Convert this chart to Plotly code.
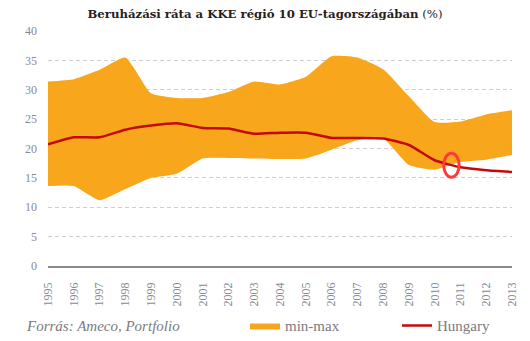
import plotly.graph_objects as go

years = list(range(1995, 2014))
min_vals = [13.6, 13.6, 11.2, 13.1, 15.0, 15.7, 18.3, 18.4, 18.3, 18.2, 18.3, 19.8, 21.4, 21.7, 17.2, 16.4, 17.7, 18.1, 18.9]
max_vals = [31.4, 31.8, 33.4, 35.5, 29.4, 28.6, 28.6, 29.6, 31.4, 30.9, 32.2, 35.7, 35.5, 33.5, 28.9, 24.5, 24.6, 25.8, 26.5]
hungary = [20.7, 21.9, 21.9, 23.2, 23.9, 24.3, 23.5, 23.4, 22.5, 22.7, 22.7, 21.8, 21.8, 21.7, 20.6, 18.0, 16.8, 16.3, 16.0]
y_ticks = [0, 5, 10, 15, 20, 25, 30, 35, 40]

ORANGE = "#F8A71D"
RED = "#C20A0A"
GRAY = "#8a8a96"
SERIF = "Liberation Serif, DejaVu Serif, serif"

fig = go.Figure()
fig.add_trace(go.Scatter(x=years, y=min_vals, mode="lines", line=dict(width=0, shape="spline", smoothing=0.5),
                         showlegend=False, hoverinfo="skip"))
fig.add_trace(go.Scatter(x=years, y=max_vals, mode="lines", fill="tonexty", fillcolor=ORANGE,
                         line=dict(width=0, color=ORANGE, shape="spline", smoothing=0.5), name="min-max",
                         legend="legend"))
fig.add_trace(go.Scatter(x=years, y=hungary, mode="lines", line=dict(width=2.5, color=RED, shape="spline", smoothing=0.5),
                         name="Hungary", legend="legend2"))

# hand-drawn highlight circle
fig.add_shape(type="circle", xref="x", yref="y", x0=2010.35, x1=2010.95, y0=15.1, y1=19.2,
              line=dict(color="#ff3a3a", width=3))

legend_common = dict(orientation="h", xanchor="left", y=-0.254, yanchor="middle",
                     font=dict(family=SERIF, size=15, color="#7a7a80"), bgcolor="rgba(0,0,0,0)")

fig.update_layout(
    width=530, height=341,
    margin=dict(l=48, r=18, t=31, b=75, autoexpand=False),
    paper_bgcolor="white", plot_bgcolor="white",
    title=dict(text="<b>Beruházási ráta a KKE régió 10 EU-tagországában</b> (%)",
               x=0.5, xref="container", y=1 - 14 / 341, yref="container", yanchor="middle",
               font=dict(family="DejaVu Serif, serif", size=11.7, color="#2a2020")),
    xaxis=dict(range=[1995, 2013], tickvals=years, ticktext=[str(y) for y in years], tickangle=-90,
               showgrid=False, zeroline=False, showline=True, linecolor="#888888", linewidth=1.5,
               ticks="", ticklabelstandoff=10,
               tickfont=dict(family=SERIF, size=12, color=GRAY)),
    yaxis=dict(range=[0, 40], tickvals=y_ticks, showgrid=True, gridcolor="#cfcfcf", griddash="4px,3px",
               gridwidth=1, zeroline=False, ticks="", ticklabelstandoff=10,
               tickfont=dict(family=SERIF, size=12, color=GRAY)),
    legend=dict(x=(245 - 48) / 464, **legend_common),
    legend2=dict(x=(397 - 48) / 464, **legend_common),
    annotations=[dict(text="<i>Forrás: Ameco, Portfolio</i>", xref="paper", yref="paper",
                      x=(24 - 48) / 464, y=-0.254, xanchor="left", yanchor="middle", showarrow=False,
                      font=dict(family=SERIF, size=15, color="#7a7a80"))],
)

fig.write_html("out.html")
